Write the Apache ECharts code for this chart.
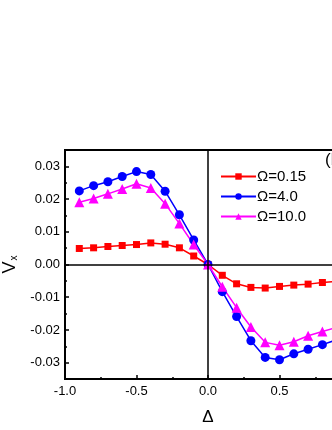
<!DOCTYPE html>
<html>
<head>
<meta charset="utf-8">
<script src="https://cdn.jsdelivr.net/npm/echarts@6/dist/echarts.min.js"></script>
<style>
html,body{margin:0;padding:0;background:#fff;}
#chart{width:332px;height:430px;}
</style>
</head>
<body>
<div id="chart"></div>
<script>
var deltas = [-0.9,-0.8,-0.7,-0.6,-0.5,-0.4,-0.3,-0.2,-0.1,0.0,0.1,0.2,0.3,0.4,0.5,0.6,0.7,0.8,0.9];
var omega015 = [0.0049,0.0051,0.0055,0.0058,0.0061,0.0066,0.0062,0.0051,0.0026,0,-0.0033,-0.0059,-0.0070,-0.0072,-0.0067,-0.0063,-0.0060,-0.0055,-0.0052];
var omega4 = [0.0225,0.0241,0.0253,0.0269,0.0284,0.0275,0.0224,0.0152,0.0075,0,-0.0083,-0.0159,-0.0233,-0.0284,-0.0291,-0.0273,-0.0259,-0.0245,-0.0230];
var omega10 = [0.0190,0.0202,0.0216,0.0231,0.0247,0.0234,0.0186,0.0125,0.0061,0,-0.0068,-0.0132,-0.0191,-0.0238,-0.0247,-0.0236,-0.0218,-0.0205,-0.0192];
var seriesNames = ['Ω=0.15','Ω=4.0','Ω=10.0'];
var yTickLabels = [-0.03,-0.02,-0.01,0.00,0.01,0.02,0.03];
var yMinorTicks = [-0.025,-0.015,-0.005,0.005,0.015,0.025];
var panelLabel = '(b)';

var FONT = 'Liberation Sans, Arial, sans-serif';
function pairs(ys){ return deltas.map(function(x,i){ return [x, ys[i]]; }); }

var chart = echarts.init(document.getElementById('chart'));
chart.setOption({
  animation: false,
  backgroundColor: '#fff',
  textStyle: {fontFamily: FONT},
  grid: {left: 65, top: 150, right: -19, bottom: 51, containLabel: false, outerBoundsMode: 'none',
         show: true, borderColor: '#000', borderWidth: 2, backgroundColor: 'transparent'},
  legend: {
    orient: 'vertical', left: 215, top: 164, itemWidth: 35, itemHeight: 8, itemGap: 5,
    textStyle: {fontSize: 15, color: '#000', fontFamily: FONT, padding: [0,0,0,-4]},
    data: seriesNames
  },
  xAxis: {
    type: 'value', min: -1, max: 1, interval: 0.5,
    name: 'Δ', nameLocation: 'middle', nameGap: 30,
    nameTextStyle: {fontSize: 17, color: '#000', fontFamily: FONT},
    axisLine: {onZero: false, lineStyle: {color: '#000', width: 2}},
    axisTick: {inside: true, length: 4, lineStyle: {color: '#000', width: 1.5}},
    minorTick: {show: true, splitNumber: 2, length: 2, lineStyle: {color: '#000', width: 1.5}},
    axisLabel: {color: '#000', fontSize: 13, margin: 6, formatter: function(v){ return v.toFixed(1); }},
    splitLine: {show: false}
  },
  yAxis: [{
    type: 'value', min: -0.035, max: 0.035,
    name: '{v|V}{s|x}', nameLocation: 'middle', nameGap: 42, nameRotate: 90,
    nameTextStyle: {color: '#000', fontFamily: FONT, rich: {
      v: {fontSize: 18, color: '#000', fontFamily: FONT},
      s: {fontSize: 10, color: '#000', fontFamily: FONT, verticalAlign: 'bottom', padding: [0,0,0,1]}
    }},
    axisLine: {onZero: false, lineStyle: {color: '#000', width: 2}},
    axisTick: {inside: true, length: 4, customValues: yTickLabels, lineStyle: {color: '#000', width: 1.5}},
    axisLabel: {color: '#000', fontSize: 13, margin: 5, customValues: yTickLabels, formatter: function(v){ return v.toFixed(2); }},
    splitLine: {show: false}
  },{
    type: 'value', min: -0.035, max: 0.035, position: 'left',
    axisLine: {show: false, onZero: false},
    axisTick: {inside: true, length: 2, customValues: yMinorTicks, lineStyle: {color: '#000', width: 1.5}},
    axisLabel: {show: false},
    splitLine: {show: false}
  }],
  graphic: [{
    type: 'text', left: 325, top: 152,
    style: {text: panelLabel, fontSize: 17, fill: '#000', fontFamily: FONT}
  }],
  series: [{
    type: 'line', data: [], z: 1, silent: true,
    markLine: {
      silent: true, symbol: 'none', label: {show: false},
      lineStyle: {color: '#000', width: 1.5, type: 'solid'},
      data: [{yAxis: 0}, {xAxis: 0}]
    }
  },{
    name: seriesNames[0], type: 'line', data: pairs(omega015),
    symbol: 'rect', symbolSize: 7,
    itemStyle: {color: '#ff0000'}, lineStyle: {color: '#ff0000', width: 1.5}
  },{
    name: seriesNames[1], type: 'line', data: pairs(omega4),
    symbol: 'circle', symbolSize: 9,
    itemStyle: {color: '#0000ff'}, lineStyle: {color: '#0000ff', width: 1.5}
  },{
    name: seriesNames[2], type: 'line', data: pairs(omega10),
    symbol: 'triangle', symbolSize: 10,
    itemStyle: {color: '#ff00ff'}, lineStyle: {color: '#ff00ff', width: 1.5}
  }]
});
</script>
</body>
</html>
